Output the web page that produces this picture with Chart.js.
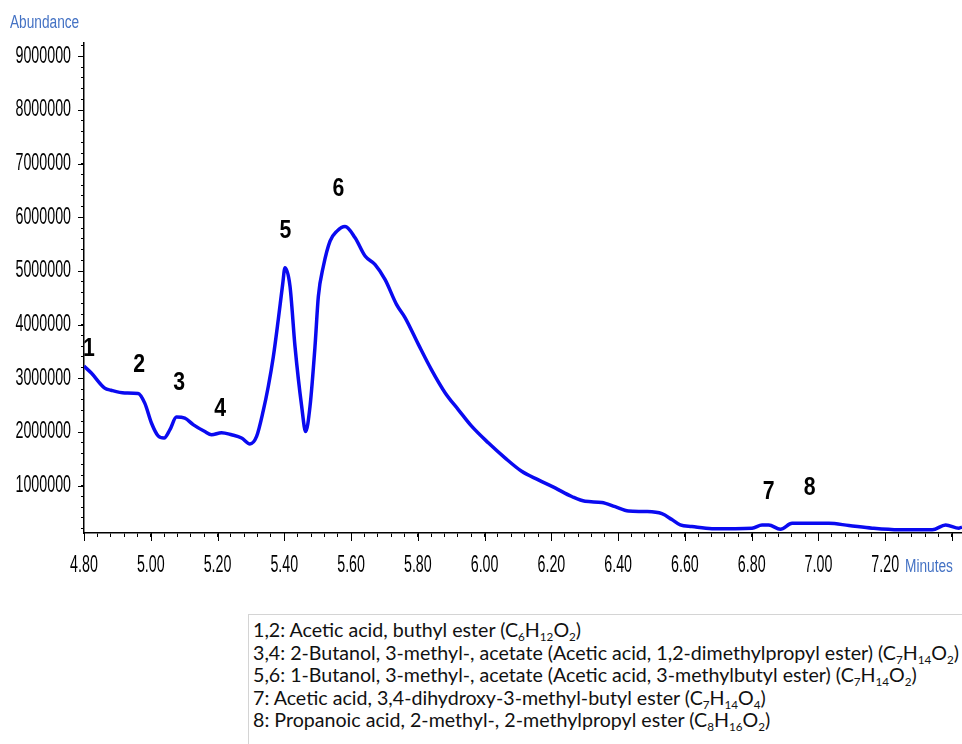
<!DOCTYPE html>
<html>
<head>
<meta charset="utf-8">
<title>Chromatogram</title>
<script src="https://cdn.jsdelivr.net/npm/chart.js@4.4.1/dist/chart.umd.min.js"></script>
<style>
  body { margin: 0; background: #fff; width: 962px; height: 744px; overflow: hidden; position: relative; }
  #chartBox { position: absolute; left: 0; top: 0; width: 962px; height: 600px; }
  #legend { position: absolute; left: 248px; top: 614px; width: 730px; height: 150px; border: 1px solid #d4d4d4; box-sizing: border-box; padding: 4px 0 0 4px; }
  #legendText { display: inline-block; font-family: Lato, "Open Sans", sans-serif; font-size: 18.5px; color: #111; transform-origin: left top; }
  #legendText div { white-space: nowrap; line-height: 22.6px; }
  sub { font-size: 11px; vertical-align: -4px; line-height: 0; }
</style>
</head>
<body>
<div id="chartBox"><canvas id="chart"></canvas></div>
<div id="legend"><div id="legendText">
  <div>1,2: Acetic acid, buthyl ester (C<sub>6</sub>H<sub>12</sub>O<sub>2</sub>)</div>
  <div>3,4: 2-Butanol, 3-methyl-, acetate (Acetic acid, 1,2-dimethylpropyl ester) (C<sub>7</sub>H<sub>14</sub>O<sub>2</sub>)</div>
  <div>5,6: 1-Butanol, 3-methyl-, acetate (Acetic acid, 3-methylbutyl ester) (C<sub>7</sub>H<sub>14</sub>O<sub>2</sub>)</div>
  <div>7: Acetic acid, 3,4-dihydroxy-3-methyl-butyl ester (C<sub>7</sub>H<sub>14</sub>O<sub>4</sub>)</div>
  <div>8: Propanoic acid, 2-methyl-, 2-methylpropyl ester (C<sub>8</sub>H<sub>16</sub>O<sub>2</sub>)</div>
</div></div>
<script>
// retention time (minutes) and abundance
const times = [4.800, 4.822, 4.862, 4.881, 4.922, 4.962, 4.982, 5.002, 5.022, 5.040,
  5.057, 5.077, 5.102, 5.127, 5.162, 5.182, 5.212, 5.242, 5.272, 5.297,
  5.317, 5.337, 5.352, 5.367, 5.382, 5.395, 5.402, 5.417, 5.432, 5.452,
  5.464, 5.477, 5.492, 5.502, 5.517, 5.537, 5.557, 5.582, 5.612, 5.642,
  5.672, 5.702, 5.736, 5.762, 5.802, 5.841, 5.882, 5.921, 5.961, 6.011,
  6.061, 6.111, 6.161, 6.211, 6.261, 6.301, 6.351, 6.391, 6.431, 6.481,
  6.531, 6.561, 6.586, 6.621, 6.681, 6.801, 6.831, 6.851, 6.886, 6.921,
  7.031, 7.091, 7.161, 7.241, 7.341, 7.381, 7.421, 7.430];
const abundance = [3230000, 3100000, 2820000, 2780000, 2730000, 2720000, 2540000, 2170000, 1930000, 1890000,
  2040000, 2280000, 2260000, 2140000, 2010000, 1950000, 1990000, 1950000, 1890000, 1780000,
  1920000, 2400000, 2850000, 3400000, 4100000, 4750000, 5060000, 4720000, 3600000, 2480000,
  2010000, 2480000, 3600000, 4530000, 5090000, 5560000, 5740000, 5830000, 5620000, 5280000,
  5120000, 4840000, 4380000, 4130000, 3630000, 3160000, 2730000, 2420000, 2110000, 1800000,
  1520000, 1270000, 1110000, 960000, 800000, 710000, 690000, 610000, 530000, 520000,
  480000, 370000, 270000, 240000, 200000, 210000, 270000, 270000, 190000, 300000,
  300000, 260000, 210000, 180000, 180000, 270000, 210000, 230000];

// peak numbers and where their labels sit (time, abundance)
const peakNames = ['1', '2', '3', '4', '5', '6', '7', '8'];
const peakTimes = [4.815, 4.965, 5.085, 5.208, 5.403, 5.562, 6.851, 6.974];
const peakLevels = [3540000, 3240000, 2920000, 2420000, 5740000, 6520000, 880000, 960000];

// axis ticks
const xTicks = [];
for (let i = 0; i <= 65; i++) xTicks.push(Math.round((4.80 + i * 0.04) * 100) / 100);
const yTicks = [];
for (let i = 1; i <= 46; i++) yTicks.push(i * 200000);

const sans = "'Liberation Sans', Arial, sans-serif";
const blue = '#4472c4';

function isMajorX(v) { return Math.abs(v / 0.2 - Math.round(v / 0.2)) < 1e-6; }
function isMajorY(v) { return v % 1000000 === 0; }

// the picture's fonts are tall and narrow, so squeeze the text sideways
function drawNarrow(ctx, text, x, y, align, font, sx) {
  ctx.save();
  ctx.translate(x, y);
  ctx.scale(sx, 1);
  ctx.font = font;
  ctx.textAlign = align;
  ctx.textBaseline = 'middle';
  ctx.fillText(text, 0, 0);
  ctx.restore();
}

const extras = {
  id: 'extras',
  afterDraw(chart) {
    const ctx = chart.ctx;
    const area = chart.chartArea;
    const xs = chart.scales.x, ys = chart.scales.y;
    ctx.save();
    // longer major ticks
    ctx.strokeStyle = '#000';
    ctx.lineWidth = 1;
    ctx.beginPath();
    xs.ticks.filter(t => isMajorX(t.value)).forEach(t => {
      const px = Math.round(xs.getPixelForValue(t.value)) + 0.5;
      ctx.moveTo(px, area.bottom); ctx.lineTo(px, area.bottom + 8);
    });
    ys.ticks.filter(t => isMajorY(t.value)).forEach(t => {
      const py = Math.round(ys.getPixelForValue(t.value)) + 0.5;
      ctx.moveTo(area.left - 6, py); ctx.lineTo(area.left, py);
    });
    ctx.stroke();
    // tick labels
    ctx.fillStyle = '#000';
    xs.ticks.filter(t => isMajorX(t.value) && t.value < 7.3).forEach(t => {
      drawNarrow(ctx, t.value.toFixed(2), xs.getPixelForValue(t.value), 566, 'center', '23px ' + sans, 0.62);
    });
    ys.ticks.filter(t => isMajorY(t.value)).forEach(t => {
      drawNarrow(ctx, String(t.value), 71, ys.getPixelForValue(t.value), 'right', '23px ' + sans, 0.62);
    });
    // axis titles
    ctx.fillStyle = blue;
    drawNarrow(ctx, 'Abundance', 10, 23, 'left', '18px ' + sans, 0.76);
    drawNarrow(ctx, 'Minutes', 905, 567, 'left', '18px ' + sans, 0.76);
    // peak numbers
    ctx.fillStyle = '#000';
    peakNames.forEach((n, i) => {
      drawNarrow(ctx, n, xs.getPixelForValue(peakTimes[i]), ys.getPixelForValue(peakLevels[i]), 'center', 'bold 25px ' + sans, 0.85);
    });
    ctx.restore();
  }
};

new Chart(document.getElementById('chart'), {
  type: 'line',
  data: {
    datasets: [{
      data: times.map((t, i) => ({ x: t, y: abundance[i] })),
      borderColor: '#0a0af0',
      borderWidth: 3.5,
      pointRadius: 0,
      cubicInterpolationMode: 'monotone',
      fill: false
    }]
  },
  options: {
    responsive: true,
    maintainAspectRatio: false,
    animation: false,
    layout: { padding: { top: 43, right: 0, left: 0, bottom: 0 } },
    plugins: { legend: { display: false }, tooltip: { enabled: false } },
    scales: {
      x: {
        type: 'linear',
        min: 4.80,
        max: 7.43,
        afterBuildTicks: s => { s.ticks = xTicks.map(v => ({ value: v })); },
        afterFit: s => { s.height = 67; },
        ticks: { display: false },
        grid: { drawOnChartArea: false, tickLength: 4, tickColor: '#000' },
        border: { color: '#000', width: 1.5 }
      },
      y: {
        min: 120000,
        max: 9250000,
        afterBuildTicks: s => { s.ticks = yTicks.map(v => ({ value: v })); },
        afterFit: s => { s.width = 84; },
        ticks: { display: false },
        grid: { drawOnChartArea: false, tickLength: 3, tickColor: '#000' },
        border: { color: '#000', width: 1.5 }
      }
    }
  },
  plugins: [extras]
});

// squeeze the legend text to the width it has in the picture
const legendText = document.getElementById('legendText');
const scale = 706 / legendText.getBoundingClientRect().width;
legendText.style.transform = 'scaleX(' + scale + ')';
</script>
</body>
</html>
